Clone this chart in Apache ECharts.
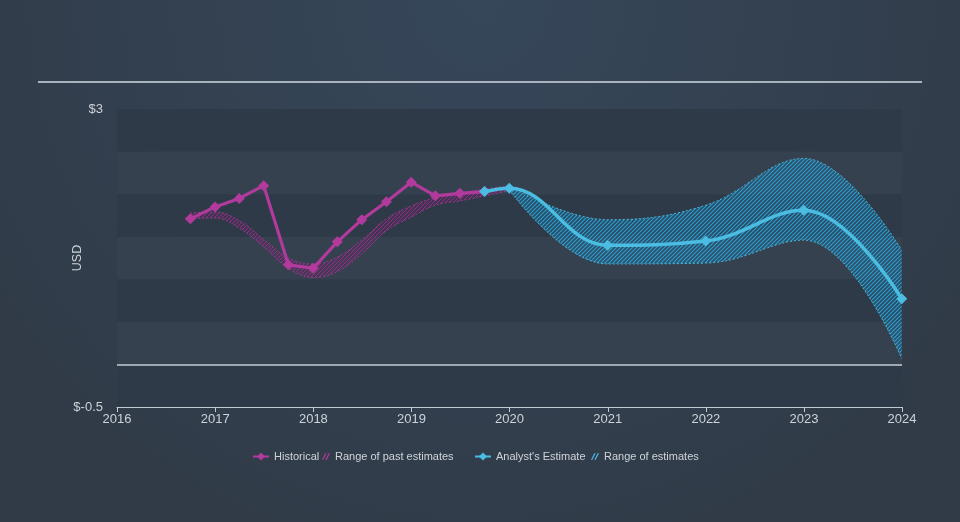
<!DOCTYPE html>
<html><head><meta charset="utf-8">
<script src="https://cdn.jsdelivr.net/npm/echarts@6/dist/echarts.min.js"></script>
<style>html,body{margin:0;padding:0;background:#333f4e;}#c{width:960px;height:522px;}</style>
</head><body><div id="c"></div>
<script>
// ---- data ----
const histDates = ['2016-09-30','2016-12-31','2017-03-31','2017-06-30','2017-09-30','2017-12-31','2018-03-31','2018-06-30','2018-09-30','2018-12-31','2019-03-31','2019-06-30','2019-09-30'];
const histValues = [1.71,1.85,1.95,2.10,1.17,1.13,1.44,1.70,1.91,2.14,1.98,2.01,2.03];

const pastRangeDates = ['2016-09-30','2016-12-31','2017-03-31','2017-06-30','2017-09-30','2017-12-31','2018-03-31','2018-06-30','2018-09-30','2018-12-31','2019-03-31','2019-06-30','2019-09-30','2019-12-31'];
const pastRangeHigh = [1.78,1.79,1.69,1.47,1.25,1.18,1.26,1.46,1.71,1.86,1.96,2.01,2.06,2.10];
const pastRangeLow  = [1.71,1.72,1.60,1.38,1.13,1.02,1.09,1.30,1.57,1.73,1.87,1.92,1.98,2.04];

const estDates = ['2019-09-30','2019-12-31','2020-12-31','2021-12-31','2022-12-31','2023-12-31'];
const estValues = [2.03,2.07,1.40,1.45,1.81,0.77];

const estRangeDates = ['2019-12-31','2020-12-31','2021-12-31','2022-12-31','2023-12-31'];
const estRangeHigh = [2.10,1.70,1.87,2.42,1.34];
const estRangeLow  = [2.05,1.18,1.19,1.46,0.07];

const yTickLabels = {'3':'$3','-0.5':'$-0.5'};
const xAxisStart = '2016-01-01';
const xAxisEnd = '2024-01-01';

// ---- styling ----
const MAG = '#b23a9c';
const CYAN = '#4bbde2';
function hatch(color, bg, alpha, lw) {
  const c = document.createElement('canvas');
  c.width = 4; c.height = 4;
  const g = c.getContext('2d');
  g.fillStyle = bg;
  g.fillRect(0, 0, 4, 4);
  g.globalAlpha = alpha;
  g.strokeStyle = color;
  g.lineWidth = lw;
  g.beginPath();
  g.moveTo(0, 4); g.lineTo(4, 0);
  g.moveTo(-1, 1); g.lineTo(1, -1);
  g.moveTo(3, 5); g.lineTo(5, 3);
  g.stroke();
  return c;
}
const pair = (xs, ys) => xs.map((x, i) => [x, ys[i]]);
const diff = (hi, lo) => hi.map((v, i) => +(v - lo[i]).toFixed(3));

const hatchIcon = 'path://M0,10 L5,0 L7,0 L2,10 Z M5,10 L10,0 L12,0 L7,10 Z';
const legendText = {color: '#cfd4da', fontSize: 11, fontFamily: 'Liberation Sans, Arial, sans-serif'};
const txtColor = '#cdd2d8';

const chart = echarts.init(document.getElementById('c'), null, {renderer: 'canvas'});
chart.setOption({
  animation: false,
  backgroundColor: {type: 'radial', x: 0.5, y: 0, r: 1.1, colorStops: [{offset: 0, color: '#36475a'}, {offset: 1, color: '#313b48'}]},
  textStyle: {fontFamily: 'Liberation Sans, Arial, sans-serif'},
  grid: {left: 117, right: 58, top: 109, bottom: 115},
  graphic: [{type: 'line', shape: {x1: 38, y1: 82, x2: 922, y2: 82}, style: {stroke: '#a9b3be', lineWidth: 2}, silent: true}],
  legend: [
    {data: ['Historical'], left: 247, top: 446, itemWidth: 16, itemHeight: 10, textStyle: legendText, selectedMode: false},
    {data: [{name: 'Range of past estimates', icon: hatchIcon, itemStyle: {color: MAG, borderWidth: 0}}], left: 317, top: 446, itemWidth: 8, itemHeight: 8, textStyle: legendText, selectedMode: false},
    {data: ["Analyst's Estimate"], left: 469, top: 446, itemWidth: 16, itemHeight: 10, textStyle: legendText, selectedMode: false},
    {data: [{name: 'Range of estimates', icon: hatchIcon, itemStyle: {color: CYAN, borderWidth: 0}}], left: 586, top: 446, itemWidth: 8, itemHeight: 8, textStyle: legendText, selectedMode: false}
  ],
  xAxis: {
    type: 'time', min: xAxisStart, max: xAxisEnd,
    minInterval: 365 * 24 * 3600 * 1000, maxInterval: 366 * 24 * 3600 * 1000,
    axisLine: {show: true, onZero: false, lineStyle: {color: '#c3cad2', width: 1}},
    axisTick: {show: true, length: 5, lineStyle: {color: '#c3cad2'}},
    axisLabel: {color: txtColor, fontSize: 13, margin: 6, showMaxLabel: true, showMinLabel: true, hideOverlap: false,
      formatter: v => String(new Date(v).getFullYear() + (new Date(v).getMonth() === 11 ? 1 : 0))},
    splitLine: {show: false}
  },
  yAxis: {
    type: 'value', min: -0.5, max: 3, interval: 0.5,
    name: 'USD', nameLocation: 'middle', nameGap: 33, nameMoveOverlap: false, nameTextStyle: {color: txtColor, fontSize: 12.5},
    axisLine: {show: false}, axisTick: {show: false},
    axisLabel: {color: txtColor, fontSize: 13, margin: 14, formatter: v => yTickLabels[String(v)] || ''},
    splitLine: {show: false},
    splitArea: {show: true, areaStyle: {color: ['#2f3a48', '#35414f']}}
  },
  series: [
    {name: 'pastLow', type: 'line', stack: 'past', smooth: 0.4, symbol: 'none',
     data: pair(pastRangeDates, pastRangeLow),
     lineStyle: {color: MAG, width: 1, type: [2, 2], opacity: 0.75}, z: 1},
    {name: 'Range of past estimates', type: 'line', stack: 'past', smooth: 0.4, symbol: 'none',
     data: pair(pastRangeDates, diff(pastRangeHigh, pastRangeLow)),
     itemStyle: {color: MAG},
     lineStyle: {color: MAG, width: 1, type: [2, 2], opacity: 0.75},
     areaStyle: {color: {image: hatch('#a3308f', 'rgba(120,35,110,0.25)', 0.8, 1), repeat: 'repeat'}, opacity: 1}, z: 1},
    {name: 'estLow', type: 'line', stack: 'est', smooth: 0.4, symbol: 'none',
     data: pair(estRangeDates, estRangeLow),
     lineStyle: {color: CYAN, width: 1, type: [2, 2], opacity: 0.9}, z: 1},
    {name: 'Range of estimates', type: 'line', stack: 'est', smooth: 0.4, symbol: 'none',
     data: pair(estRangeDates, diff(estRangeHigh, estRangeLow)),
     itemStyle: {color: CYAN},
     lineStyle: {color: CYAN, width: 1, type: [2, 2], opacity: 0.9},
     areaStyle: {color: {image: hatch('#2e9fcc', 'rgba(30,110,160,0.35)', 1, 1.1), repeat: 'repeat'}, opacity: 1}, z: 1},
    {name: 'Historical', type: 'line', symbol: 'diamond', symbolSize: 11,
     data: pair(histDates, histValues),
     itemStyle: {color: MAG}, lineStyle: {color: MAG, width: 3.2},
     markLine: {silent: true, symbol: 'none', label: {show: false},
       lineStyle: {color: '#c9ced5', width: 1.5, type: 'solid'}, data: [{yAxis: 0}]}, z: 3},
    {name: "Analyst's Estimate", type: 'line', symbol: 'diamond', symbolSize: 11, smooth: 0.4,
     data: pair(estDates, estValues),
     itemStyle: {color: CYAN}, lineStyle: {color: CYAN, width: 3.5}, z: 4}
  ]
});
</script></body></html>
